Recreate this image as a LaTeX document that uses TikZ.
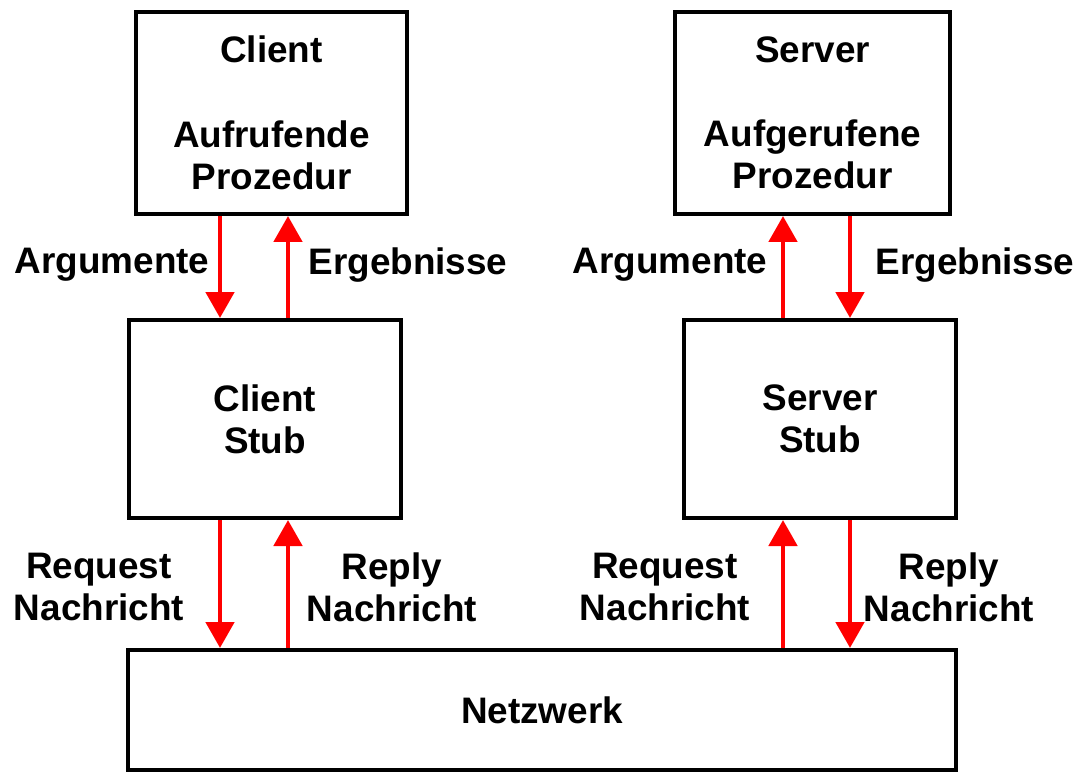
\documentclass[tikz,border=0pt]{standalone}
\usepackage{fontspec}
\setmainfont{Liberation Sans}
\usetikzlibrary{arrows.meta}

\begin{document}
\begin{tikzpicture}[x=0.02cm, y=-0.02cm,
		box/.style={draw, line width=2.3pt, align=center, inner sep=0pt},
		lbl/.style={align=center},
		arr/.style={draw=red, line width=2.8pt, -{Triangle[width=0.56cm, length=0.52cm]}},
		every node/.style={font=\bfseries\fontsize{21}{24}\selectfont}]
		\useasboundingbox (0,0) rectangle (1079,774);
		\node[box, minimum width=5.42cm, minimum height=4.04cm] (client) at (271.5,113) {Client\\[24pt]Aufrufende\\Prozedur};
		\node[box, minimum width=5.5cm, minimum height=4.04cm] (server) at (812.5,113) {Server\\[24pt]Aufgerufene\\Prozedur};
		\node[box, minimum width=5.44cm, minimum height=3.96cm] (cstub) at (265,419) {Client\\Stub};
		\node[box, minimum width=5.44cm, minimum height=3.96cm] (sstub) at (820,419) {Server\\Stub};
		\node[box, minimum width=16.56cm, minimum height=2.4cm] (netz) at (542,710) {Netzwerk};
		\coordinate (cl) at (220,0);
		\coordinate (cr) at (288,0);
		\coordinate (sl) at (783,0);
		\coordinate (sr) at (850,0);
		\draw[arr] (client.south -| cl) -- (cstub.north -| cl);
		\draw[arr] (cstub.north -| cr) -- (client.south -| cr);
		\draw[arr] (sstub.north -| sl) -- (server.south -| sl);
		\draw[arr] (server.south -| sr) -- (sstub.north -| sr);
		\draw[arr] (cstub.south -| cl) -- (netz.north -| cl);
		\draw[arr] (netz.north -| cr) -- (cstub.south -| cr);
		\draw[arr] (netz.north -| sl) -- (sstub.south -| sl);
		\draw[arr] (sstub.south -| sr) -- (netz.north -| sr);
		\node[lbl] (argc) at (112,265) {Argumente};
		\node[lbl] (ergc) at (408,265) {Ergebnisse};
		\node[lbl] (args) at (670,265) {Argumente};
		\node[lbl] (ergs) at (975,265) {Ergebnisse};
		\node[lbl] (reqc) at (99,587) {Request\\Nachricht};
		\node[lbl] (repc) at (392,587) {Reply\\Nachricht};
		\node[lbl] (reqs) at (665,587) {Request\\Nachricht};
		\node[lbl] (reps) at (949,587) {Reply\\Nachricht};
\end{tikzpicture}
\end{document}
